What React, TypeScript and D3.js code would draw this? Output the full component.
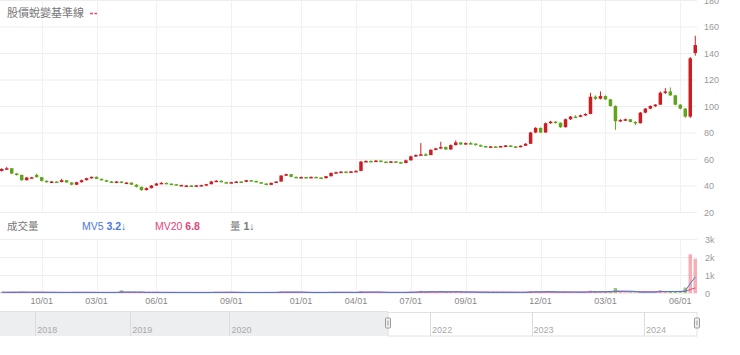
import { useEffect, useRef } from "react";
import { select, scaleBand, scaleLinear, line, mean } from "d3";

// [open, high, low, close], one candle per trading slot
const ohlc: [number, number, number, number][] = [
  [51, 53, 50.5, 52.5], [52.5, 54, 52, 53], [53, 53.2, 48.5, 49], [49, 49.5, 47.5, 48], [48, 48.2, 43.5, 44],
  [44, 46.5, 43.8, 46], [46, 46.5, 45.5, 46.2], [48, 49, 46, 46.3], [46.3, 46.5, 43, 43.5], [43.5, 44, 42.3, 42.7],
  [42.7, 43.5, 42.3, 43], [43, 43.2, 42.5, 42.6], [42.6, 45, 42.4, 44], [44, 44.2, 42, 42.3], [42.3, 42.5, 40.2, 40.6],
  [40.6, 42.8, 40.3, 42.5], [42.5, 44.5, 42.2, 44], [44, 45.8, 43.8, 45.5], [45.5, 46.8, 45.3, 46.5], [46.5, 46.8, 44.8, 45],
  [45, 45.2, 43.8, 44], [44, 44.3, 42.6, 43], [43, 43.4, 42.3, 42.6], [42.6, 43.3, 42.4, 43], [43, 43.1, 41.8, 42],
  [42, 42.5, 41.5, 42.2], [42.2, 42.3, 40.3, 40.6], [40.6, 41, 38.5, 39], [39, 39.2, 36, 36.5], [36.5, 38.5, 36.3, 38],
  [38, 40.3, 37.8, 40], [40, 41.8, 39.8, 41.5], [41.5, 42.5, 41.3, 42], [42, 42.2, 41.2, 41.4], [41.4, 41.6, 40.6, 41],
  [41, 41.2, 40.3, 40.5], [40.2, 40.6, 39.6, 40.4], [39.6, 40.2, 39.3, 40], [40, 40.3, 39.4, 39.7], [39.7, 40.4, 39.5, 40.1],
  [40.1, 40.6, 39.8, 40.3], [40.3, 41.2, 40, 41], [41, 43.5, 40.8, 43], [43, 44, 42.6, 43.6], [43.6, 43.8, 42.2, 42.5],
  [42.5, 42.8, 41.8, 42], [42, 42.8, 41.8, 42.5], [42.5, 43.3, 42.3, 43], [43, 43.2, 42.6, 42.8], [42.8, 44.3, 42.6, 44],
  [44, 44.2, 43.2, 43.5], [43.5, 43.6, 42.2, 42.5], [42.5, 42.7, 41.2, 41.5], [41.5, 41.7, 40.1, 40.5], [40.5, 42.2, 40.3, 42],
  [42, 43.2, 41.8, 43], [43, 47.8, 42.8, 47.5], [47.5, 49, 47.2, 48.5], [48.5, 48.6, 46.2, 46.5], [46.5, 46.8, 45.6, 46],
  [46, 46.8, 45.5, 46.4], [46.4, 46.6, 45.4, 45.7], [45.7, 46.8, 45.5, 46.5], [46.5, 46.7, 45.7, 46], [46, 46.3, 45.2, 45.5],
  [45.5, 47.2, 45.3, 47], [47, 49.8, 46.8, 49.5], [49.5, 50.5, 49.2, 50], [50, 50.8, 49.6, 50.5], [50.5, 50.7, 49.8, 50],
  [50, 51, 49.8, 50.6], [50.6, 51.5, 50.4, 51], [51, 58.5, 50.8, 58], [58, 59, 57.6, 58.5], [58.5, 59, 57.8, 58.2],
  [58.2, 59.2, 58, 58.8], [58.8, 59, 57.6, 58], [58, 58.3, 57.2, 57.5], [57.5, 58.5, 57.3, 58.2], [58.2, 58.4, 57.2, 57.6],
  [57.6, 58, 56.7, 57], [57, 59.5, 56.8, 59], [59, 62.5, 58.8, 62], [62, 63.5, 61.5, 63], [63, 72, 62.8, 63.5],
  [63.5, 64.5, 62.5, 63], [63, 67.2, 62.8, 67], [67, 68.5, 66.5, 68], [68, 73, 67.5, 69], [69, 69.5, 66.8, 67.2],
  [67.2, 71, 67, 70.5], [70.5, 74, 70.2, 72.5], [72.5, 72.8, 70.5, 71], [71, 72.5, 70.8, 72], [72, 73, 71.2, 71.6],
  [71.6, 71.8, 70.2, 70.5], [70.5, 71, 69.3, 69.8], [69.8, 70, 68.8, 69.2], [69.2, 69.8, 68.8, 69.5], [69.5, 69.7, 68.7, 69],
  [69, 70, 68.8, 69.8], [69.8, 70.6, 69.4, 70.2], [70.2, 70.4, 69.2, 69.5], [69.5, 69.8, 68.5, 69], [69, 70.3, 68.8, 70],
  [70, 72, 69.8, 71.5], [71.5, 80.5, 71.3, 80], [80, 84, 79.5, 83.5], [83.5, 83.8, 79.5, 80], [80, 87.5, 79.8, 87],
  [87, 88.8, 86.5, 88.2], [88.2, 88.5, 86.8, 87.4], [87.4, 87.6, 83.5, 84], [84, 90.5, 83.8, 90], [90, 92.5, 89.5, 92],
  [92, 93, 91.3, 91.8], [91.8, 93.5, 91.5, 93], [93, 94.5, 92.5, 94], [94, 110, 93.8, 107], [107, 108, 104.5, 105.5],
  [105.5, 111, 105, 107.5], [107.5, 108, 104.5, 105], [105, 105.3, 99.5, 100], [100, 100.5, 82, 88.5], [88.5, 90, 88, 89.5],
  [89.5, 90.5, 88.8, 90], [90, 90.2, 87.6, 88], [88, 88.5, 85.5, 87], [87, 95.5, 86.8, 95], [95, 98.5, 94.5, 98],
  [98, 100.5, 97.5, 100], [100, 101.5, 99.2, 101], [101, 111, 100.8, 110], [110, 113.5, 109, 111], [111, 114, 107.5, 108],
  [108, 108.5, 100.5, 101], [101, 101.5, 97.5, 98], [98, 98.5, 91, 92], [92, 137, 91, 136], [140, 153, 138, 146],
];

const volumes = [
  40, 35, 50, 45, 60, 30, 25, 55, 40, 30,
  25, 20, 35, 30, 45, 40, 30, 25, 35, 30,
  30, 25, 40, 35, 150, 30, 25, 35, 45, 40,
  30, 25, 20, 30, 35, 25, 20, 30, 25, 20,
  25, 30, 45, 60, 50, 40, 35, 30, 25, 30,
  30, 25, 35, 40, 30, 35, 90, 70, 45, 30,
  25, 30, 20, 25, 30, 35, 60, 40, 30, 25,
  30, 25, 110, 60, 40, 35, 30, 25, 30, 35,
  30, 40, 70, 60, 120, 50, 70, 60, 100, 55,
  60, 80, 50, 45, 40, 35, 30, 30, 25, 30,
  30, 35, 25, 30, 40, 50, 110, 90, 60, 80,
  60, 50, 45, 70, 60, 40, 45, 50, 130, 70,
  60, 55, 90, 280, 60, 40, 35, 30, 70, 60,
  50, 45, 160, 90, 70, 60, 50, 300, 2150, 1900,
];

const dateLabels = ["10/01", "03/01", "06/01", "09/01", "01/01", "04/01", "07/01", "09/01", "12/01", "03/01", "06/01"];
const dateIdx = [8, 19, 31, 46, 60, 71, 82, 93, 108, 121, 136];

const priceTicks = [20, 40, 60, 80, 100, 120, 140, 160, 180];
const volTicks = [0, 1000, 2000, 3000];
const volTickLabels = ["0", "1k", "2k", "3k"];

// navigator: whole history in trading slots, the main view is the last part
const navTotal = 316;
const navStart = 176;
const navYears = ["2018", "2019", "2020", "2022", "2023", "2024"];
const navYearIdx = [16, 59, 104, 195, 241, 292];

const legendTitle = "股價蛻變基準線";
const volTitle = "成交量";
const mv5Text = "3.2↓";
const mv20Text = "6.8";
const lastVolText = "1↓";

const UP = "#cc1e22";
const DOWN = "#5fa51c";
const MV5C = "#4a78dc";
const MV20C = "#e0457b";
const FONT = "'Liberation Sans', 'Noto Sans CJK TC', sans-serif";

function App() {
  const svgRef = useRef<SVGSVGElement>(null);

  useEffect(() => {
    const W = 740;
    const H = 355;
    const plotRight = 697;
    const svg = select(svgRef.current).attr("width", W).attr("height", H);
    svg.selectAll("*").remove();

    const x = scaleBand<number>()
      .domain(ohlc.map((d, i) => i))
      .range([0, plotRight])
      .paddingInner(0.3);
    const cx = (i: number) => (x(i) as number) + x.bandwidth() / 2;

    const yPrice = scaleLinear().domain([20, 180]).range([212, 0]);
    const yVol = scaleLinear().domain([0, 3000]).range([293, 239]);

    // grid
    const grid = svg.append("g").attr("class", "grid");
    grid
      .selectAll(".hp")
      .data(priceTicks)
      .join("line")
      .attr("x1", 0)
      .attr("x2", plotRight)
      .attr("y1", (d) => yPrice(d) + 0.5)
      .attr("y2", (d) => yPrice(d) + 0.5)
      .attr("stroke", "#eeeeee");
    grid
      .selectAll(".hv")
      .data(volTicks)
      .join("line")
      .attr("x1", 0)
      .attr("x2", plotRight)
      .attr("y1", (d) => yVol(d) + 0.5)
      .attr("y2", (d) => yVol(d) + 0.5)
      .attr("stroke", "#eeeeee");
    grid
      .selectAll(".vp")
      .data(dateIdx)
      .join("line")
      .attr("x1", (d) => Math.round(cx(d)) + 0.5)
      .attr("x2", (d) => Math.round(cx(d)) + 0.5)
      .attr("y1", 0)
      .attr("y2", yPrice(20))
      .attr("stroke", "#f1f1f1");
    grid
      .selectAll(".vv")
      .data(dateIdx)
      .join("line")
      .attr("class", "vv")
      .attr("x1", (d) => Math.round(cx(d)) + 0.5)
      .attr("x2", (d) => Math.round(cx(d)) + 0.5)
      .attr("y1", yVol(3000))
      .attr("y2", yVol(0))
      .attr("stroke", "#f1f1f1");

    // price axis (right)
    svg
      .append("g")
      .selectAll("text")
      .data(priceTicks)
      .join("text")
      .attr("x", 704)
      .attr("y", (d) => yPrice(d) + 3.5)
      .attr("font-family", FONT)
      .attr("font-size", 9)
      .attr("fill", "#999")
      .text((d) => d);

    svg
      .append("g")
      .selectAll("text")
      .data(volTicks)
      .join("text")
      .attr("x", 705)
      .attr("y", (d) => yVol(d) + 3.5)
      .attr("font-family", FONT)
      .attr("font-size", 9)
      .attr("fill", "#999")
      .text((d, i) => volTickLabels[i]);

    // candles
    const candles = svg
      .append("g")
      .selectAll("g")
      .data(ohlc)
      .join("g")
      .attr("fill", (d) => (d[3] >= d[0] ? UP : DOWN))
      .attr("stroke", (d) => (d[3] >= d[0] ? UP : DOWN));
    candles
      .append("line")
      .attr("x1", (d, i) => cx(i))
      .attr("x2", (d, i) => cx(i))
      .attr("y1", (d) => yPrice(d[1]))
      .attr("y2", (d) => yPrice(d[2]))
      .attr("stroke-width", 1);
    candles
      .append("rect")
      .attr("x", (d, i) => x(i) as number)
      .attr("width", x.bandwidth())
      .attr("y", (d) => yPrice(Math.max(d[0], d[3])))
      .attr("height", (d) => Math.max(1.5, Math.abs(yPrice(d[0]) - yPrice(d[3]))))
      .attr("stroke", "none");

    // volume bars
    svg
      .append("g")
      .selectAll("rect")
      .data(volumes)
      .join("rect")
      .attr("x", (d, i) => x(i) as number)
      .attr("width", x.bandwidth())
      .attr("y", (d) => yVol(d))
      .attr("height", (d) => yVol(0) - yVol(d))
      .attr("fill", (d, i) => (ohlc[i][3] >= ohlc[i][0] ? "rgba(236,110,120,0.55)" : "rgba(110,180,60,0.7)"));

    const movingAvg = (n: number) =>
      volumes.map((v, i) => mean(volumes.slice(Math.max(0, i - n + 1), i + 1)) as number);
    const volLine = line<number>()
      .x((d, i) => cx(i))
      .y((d) => yVol(d));
    svg
      .append("path")
      .attr("d", volLine(movingAvg(20)))
      .attr("fill", "none")
      .attr("stroke", MV20C)
      .attr("stroke-width", 1);
    svg
      .append("path")
      .attr("d", volLine(movingAvg(5)))
      .attr("fill", "none")
      .attr("stroke", MV5C)
      .attr("stroke-width", 1);

    // date labels
    svg
      .append("g")
      .selectAll("text")
      .data(dateIdx)
      .join("text")
      .attr("x", (d) => cx(d))
      .attr("y", 304)
      .attr("text-anchor", "middle")
      .attr("font-family", FONT)
      .attr("font-size", 9)
      .attr("fill", "#888")
      .text((d, i) => dateLabels[i]);

    // legends
    svg
      .append("text")
      .attr("x", 7)
      .attr("y", 17)
      .attr("font-family", FONT)
      .attr("font-size", 11)
      .attr("fill", "#777")
      .text(legendTitle);
    svg
      .append("line")
      .attr("x1", 90)
      .attr("x2", 97)
      .attr("y1", 13.5)
      .attr("y2", 13.5)
      .attr("stroke", MV20C)
      .attr("stroke-width", 1.3)
      .attr("stroke-dasharray", "3,1.5");

    const vl = svg
      .append("text")
      .attr("y", 230)
      .attr("font-family", FONT)
      .attr("font-size", 10.5);
    vl.append("tspan").attr("x", 7).attr("fill", "#777").text(volTitle);
    vl.append("tspan").attr("x", 82).attr("fill", MV5C).text("MV5 ");
    vl.append("tspan").attr("fill", MV5C).attr("font-weight", "bold").text(mv5Text);
    vl.append("tspan").attr("x", 155).attr("fill", MV20C).text("MV20 ");
    vl.append("tspan").attr("fill", MV20C).attr("font-weight", "bold").text(mv20Text);
    vl.append("tspan").attr("x", 230).attr("fill", "#777").text("量 ");
    vl.append("tspan").attr("fill", "#777").attr("font-weight", "bold").text(lastVolText);

    // navigator
    const navX = scaleLinear().domain([0, navTotal]).range([0, plotRight]);
    const nav = svg.append("g");
    nav
      .append("rect")
      .attr("x", 0)
      .attr("y", 312)
      .attr("width", navX(navStart))
      .attr("height", 24)
      .attr("fill", "#eceef0");
    nav
      .append("rect")
      .attr("x", navX(navStart))
      .attr("y", 312.5)
      .attr("width", navX(navTotal) - navX(navStart))
      .attr("height", 23.5)
      .attr("fill", "#fff")
      .attr("stroke", "#e2e2e2");
    nav
      .append("line")
      .attr("x1", 0)
      .attr("x2", navX(navStart))
      .attr("y1", 311.5)
      .attr("y2", 311.5)
      .attr("stroke", "#e2e2e2");
    nav
      .selectAll(".yl")
      .data(navYearIdx)
      .join("line")
      .attr("x1", (d) => Math.round(navX(d)) + 0.5)
      .attr("x2", (d) => Math.round(navX(d)) + 0.5)
      .attr("y1", 312)
      .attr("y2", 336)
      .attr("stroke", "#dcdcdc");
    nav
      .selectAll(".yt")
      .data(navYearIdx)
      .join("text")
      .attr("x", (d) => navX(d) + 2)
      .attr("y", 333)
      .attr("font-family", FONT)
      .attr("font-size", 9)
      .attr("fill", "#aaa")
      .text((d, i) => navYears[i]);

    const handles = nav
      .selectAll(".hd")
      .data([navStart, navTotal])
      .join("g")
      .attr("transform", (d) => `translate(${Math.round(navX(d))},318)`);
    handles
      .append("rect")
      .attr("x", -2.5)
      .attr("y", 0)
      .attr("width", 5)
      .attr("height", 10)
      .attr("rx", 1)
      .attr("fill", "#f2f2f2")
      .attr("stroke", "#999");
    handles
      .append("line")
      .attr("x1", 0)
      .attr("x2", 0)
      .attr("y1", 2.5)
      .attr("y2", 7.5)
      .attr("stroke", "#999");
  }, []);

  return (
    <svg
      ref={svgRef}
      style={{ position: "absolute", left: 0, top: 0, background: "#fff" }}
    ></svg>
  );
}

export default App;
